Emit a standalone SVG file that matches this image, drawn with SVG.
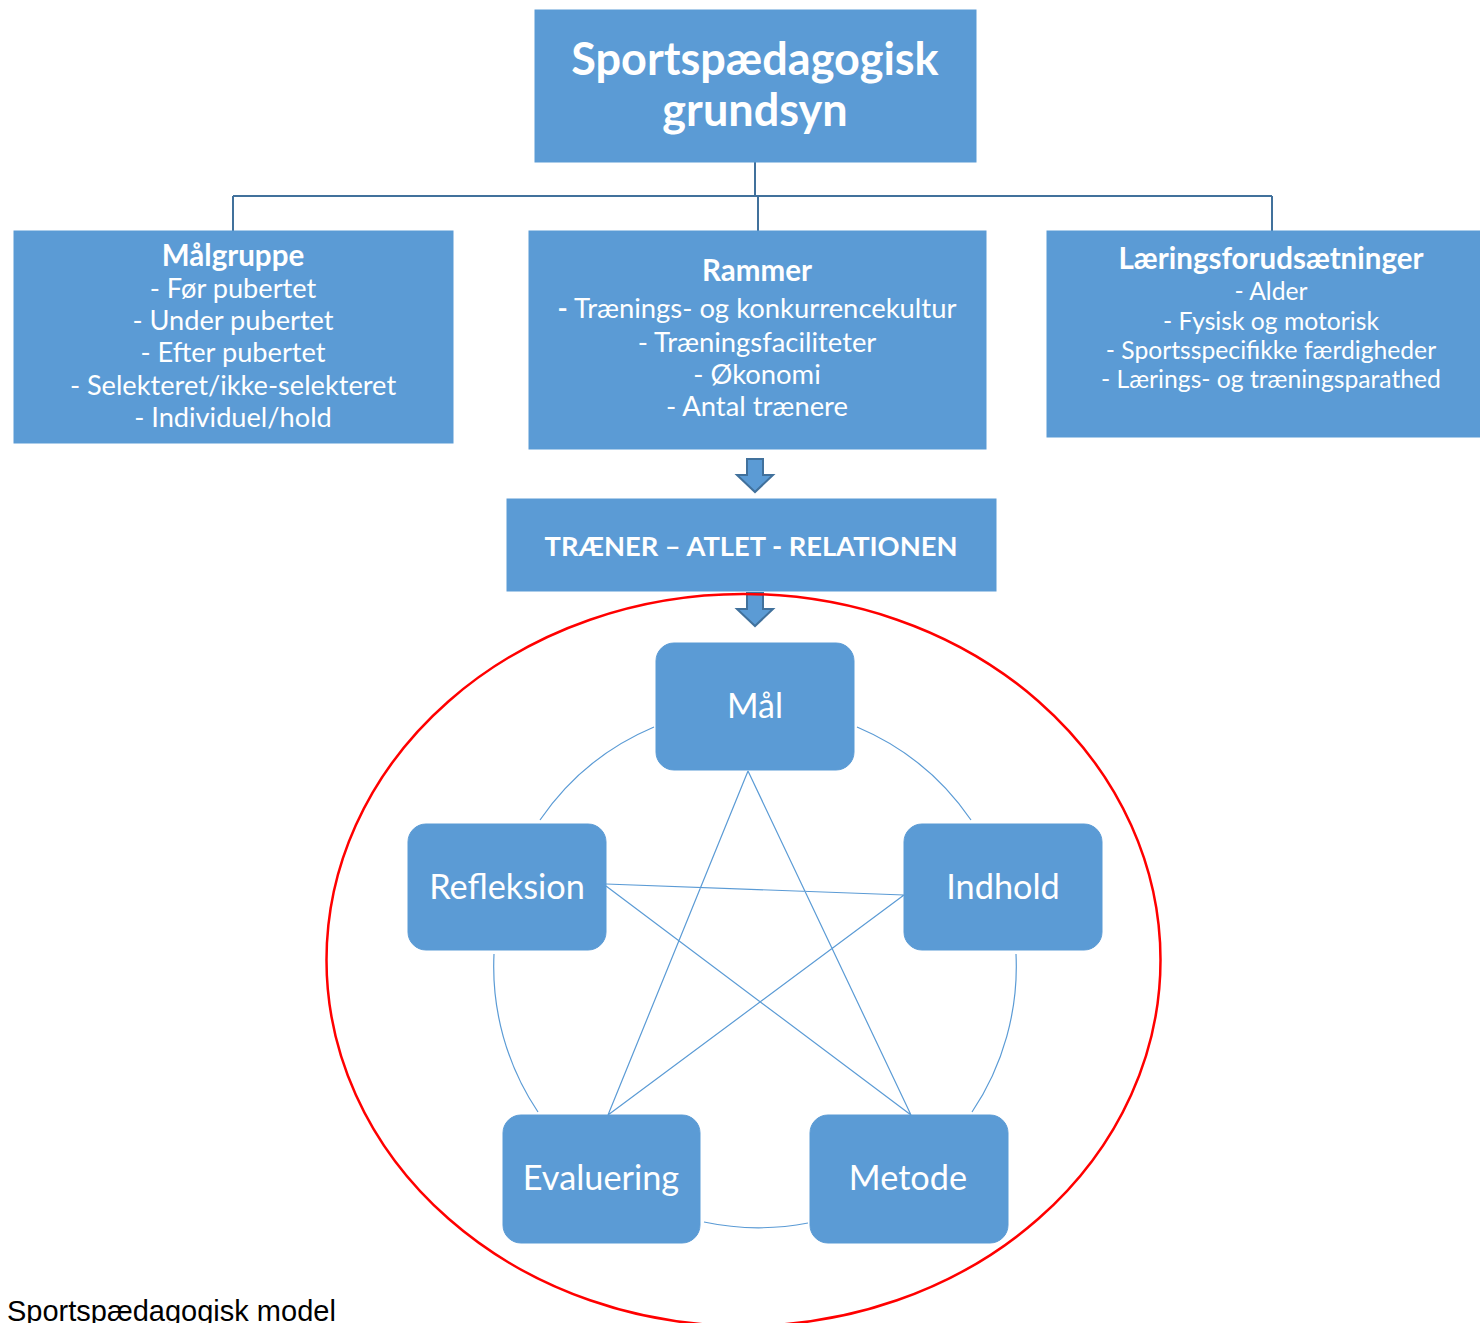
<svg xmlns="http://www.w3.org/2000/svg" width="1480" height="1323" viewBox="0 0 1480 1323">
<style>
.box{fill:#5b9bd5;stroke:#5b9bd5;stroke-width:1}
.t{font-family:Lato,"Open Sans","DejaVu Sans",sans-serif;fill:#ffffff;text-anchor:middle}
.b{font-weight:bold}
.org{stroke:#41719c;stroke-width:2;fill:none}
.thin{stroke:#5b9bd5;stroke-width:1.2;fill:none}
.arrow{fill:#5b9bd5;stroke:#41719c;stroke-width:2}
</style>
<rect width="1480" height="1323" fill="#ffffff"/>
<g id="connectors">
<path class="org" d="M755,162 V196 M233,196 H1272 M233,196 V231 M758,196 V231 M1272,196 V231"/>
<path class="arrow" d="M747,459 H763 V475 H773 L755,492 L737,475 H747 Z"/>
<path class="arrow" d="M747,593 H763 V609 H773 L755,626 L737,609 H747 Z"/>
<path class="thin" d="M748,771 L608,1115 M748,771 L911,1115 M606,884 L904,895 M606,886 L911,1115 M904,895 L608,1115"/>
<path class="thin" d="M654,727 A261,261 0 0,0 540,820 M857,727 A261,261 0 0,1 971,820 M494,954 A261,261 0 0,0 538,1112 M1016,954 A261,261 0 0,1 972,1112 M704,1222 A261,261 0 0,0 808,1223"/>
</g>
<ellipse cx="743.5" cy="960" rx="417" ry="366" fill="none" stroke="#ff0000" stroke-width="2.5"/>
<g id="top">
<rect class="box" x="535" y="10" width="441" height="152"/>
<text class="t b" x="755" y="75" font-size="45">Sportspædagogisk</text>
<text class="t b" x="755" y="126" font-size="45">grundsyn</text>
</g>
<g id="malgruppe">
<rect class="box" x="14" y="231" width="439" height="212"/>
<text class="t b" x="233" y="266" font-size="29.5">Målgruppe</text>
<text class="t" x="233" y="298" font-size="27.2">- Før pubertet</text>
<text class="t" x="233" y="330" font-size="27.2">- Under pubertet</text>
<text class="t" x="233" y="362" font-size="27.2">- Efter pubertet</text>
<text class="t" x="233" y="395" font-size="27.2">- Selekteret/ikke-selekteret</text>
<text class="t" x="233" y="427" font-size="27.2">- Individuel/hold</text>
</g>
<g id="rammer">
<rect class="box" x="529" y="231" width="457" height="218"/>
<text class="t b" x="757" y="281" font-size="29.5">Rammer</text>
<text class="t" x="757" y="318" font-size="27.4"><tspan font-weight="bold">-</tspan> Trænings- og konkurrencekultur</text>
<text class="t" x="757" y="352" font-size="27.4">- Træningsfaciliteter</text>
<text class="t" x="757" y="384" font-size="27.4">- Økonomi</text>
<text class="t" x="757" y="416" font-size="27.4">- Antal trænere</text>
</g>
<g id="laering">
<rect class="box" x="1047" y="231" width="440" height="206"/>
<text class="t b" x="1271" y="269" font-size="29.5">Læringsforudsætninger</text>
<text class="t" x="1271" y="300" font-size="24.7">- Alder</text>
<text class="t" x="1271" y="330" font-size="24.7">- Fysisk og motorisk</text>
<text class="t" x="1271" y="359" font-size="24.7">- Sportsspecifikke færdigheder</text>
<text class="t" x="1271" y="388" font-size="24.7">- Lærings- og træningsparathed</text>
</g>
<g id="traener">
<rect class="box" x="507" y="499" width="489" height="92"/>
<text class="t b" x="751" y="556" font-size="27.3">TRÆNER – ATLET - RELATIONEN</text>
</g>
<g id="maal">
<rect class="box" x="656" y="643" width="198" height="127" rx="18"/>
<text class="t" x="755" y="718" font-size="34">Mål</text>
</g>
<g id="refleksion">
<rect class="box" x="408" y="824" width="198" height="126" rx="18"/>
<text class="t" x="507" y="899" font-size="34.3">Refleksion</text>
</g>
<g id="indhold">
<rect class="box" x="904" y="824" width="198" height="126" rx="18"/>
<text class="t" x="1003" y="899" font-size="34.3">Indhold</text>
</g>
<g id="evaluering">
<rect class="box" x="503" y="1115" width="197" height="128" rx="18"/>
<text class="t" x="601" y="1190" font-size="34.3">Evaluering</text>
</g>
<g id="metode">
<rect class="box" x="810" y="1115" width="198" height="128" rx="18"/>
<text class="t" x="908" y="1190" font-size="34.3">Metode</text>
</g>
<text x="7" y="1321" font-family="Liberation Sans, Arial, sans-serif" font-size="29" fill="#000000">Sportspædagogisk model</text>
</svg>
